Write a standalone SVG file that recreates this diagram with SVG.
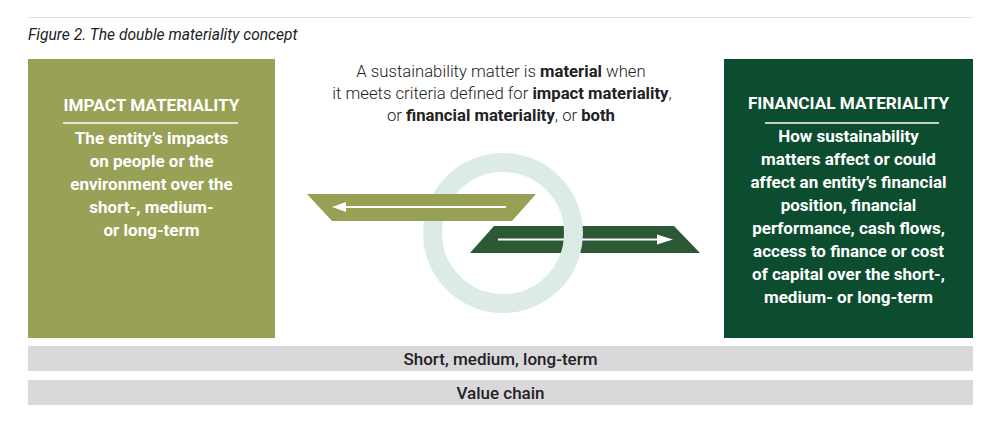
<svg xmlns="http://www.w3.org/2000/svg" width="993" height="426" viewBox="0 0 993 426">
<defs>
<style>
.cap{font-family:Roboto,"Liberation Sans",sans-serif;font-style:italic;font-size:15.6px;fill:#222}
.mid{font-family:Roboto,"Liberation Sans",sans-serif;font-weight:300;font-size:16.7px;fill:#222;text-anchor:middle}
.mid tspan.b{font-weight:bold}
.ttl{font-family:Roboto,"Liberation Sans",sans-serif;font-weight:bold;font-size:17.2px;fill:#fff;text-anchor:middle}
.body{font-family:Roboto,"Liberation Sans",sans-serif;font-weight:bold;font-size:17px;fill:#fff;text-anchor:middle}
.bar{fill:#d9d9db}
.bartxt{font-family:Roboto,"Liberation Sans",sans-serif;font-weight:500;font-size:17px;fill:#222;text-anchor:middle}
.rule{stroke:#fff;stroke-width:1.5}
.arrowline{stroke:#fff;stroke-width:2}
</style>
</defs>
<rect width="993" height="426" fill="#fff"/>
<line x1="28" y1="17.5" x2="973" y2="17.5" stroke="#e2e2e2" stroke-width="1"/>
<text class="cap" x="28" y="40">Figure 2. The double materiality concept</text>

<g id="impact-materiality">
<rect x="28" y="59" width="247" height="279" fill="#98a156"/>
<text class="ttl" x="151.5" y="111">IMPACT MATERIALITY</text>
<line class="rule" x1="63" y1="123" x2="238" y2="123"/>
<text class="body" x="151.5" y="144">The entity’s impacts</text>
<text class="body" x="151.5" y="167">on people or the</text>
<text class="body" x="151.5" y="190">environment over the</text>
<text class="body" x="151.5" y="213">short-, medium-</text>
<text class="body" x="151.5" y="236">or long-term</text>
</g>

<g id="financial-materiality">
<rect x="724" y="59" width="249" height="279" fill="#0c4d30"/>
<text class="ttl" x="848.5" y="109">FINANCIAL MATERIALITY</text>
<line class="rule" x1="765" y1="123" x2="939" y2="123"/>
<text class="body" x="848.5" y="142">How sustainability</text>
<text class="body" x="848.5" y="165">matters affect or could</text>
<text class="body" x="848.5" y="188">affect an entity’s financial</text>
<text class="body" x="848.5" y="211">position, financial</text>
<text class="body" x="848.5" y="234">performance, cash flows,</text>
<text class="body" x="848.5" y="257">access to finance or cost</text>
<text class="body" x="848.5" y="280">of capital over the short-,</text>
<text class="body" x="848.5" y="303">medium- or long-term</text>
</g>

<g id="definition">
<text class="mid" x="501" y="77">A sustainability matter is <tspan class="b">material</tspan> when</text>
<text class="mid" x="502" y="99">it meets criteria defined for <tspan class="b">impact materiality</tspan>,</text>
<text class="mid" x="501" y="121">or <tspan class="b">financial materiality</tspan>, or <tspan class="b">both</tspan></text>
</g>

<g id="connectors">
<g id="financial-arrow">
<polygon points="494,226 674,226 700,253 470,253" fill="#2c5834"/>
<line class="arrowline" x1="498" y1="239.5" x2="660" y2="239.5"/>
<polygon points="657,234.5 673,239.5 657,244.5" fill="#fff"/>
</g>
<circle id="ring" cx="503" cy="233" r="70.5" fill="none" stroke="#dcebe6" stroke-width="19"/>
<g id="impact-arrow">
<polygon points="307,194 536,194 512,221 332,221" fill="#97a055"/>
<line class="arrowline" x1="344" y1="207" x2="506" y2="207"/>
<polygon points="346,202 332,207 346,212" fill="#fff"/>
</g>
</g>

<g id="time-horizon">
<rect class="bar" x="28" y="346" width="945" height="25"/>
<text class="bartxt" x="500.5" y="364.5">Short, medium, long-term</text>
</g>
<g id="value-chain">
<rect class="bar" x="28" y="380" width="945" height="25"/>
<text class="bartxt" x="500.5" y="398.5">Value chain</text>
</g>
</svg>
